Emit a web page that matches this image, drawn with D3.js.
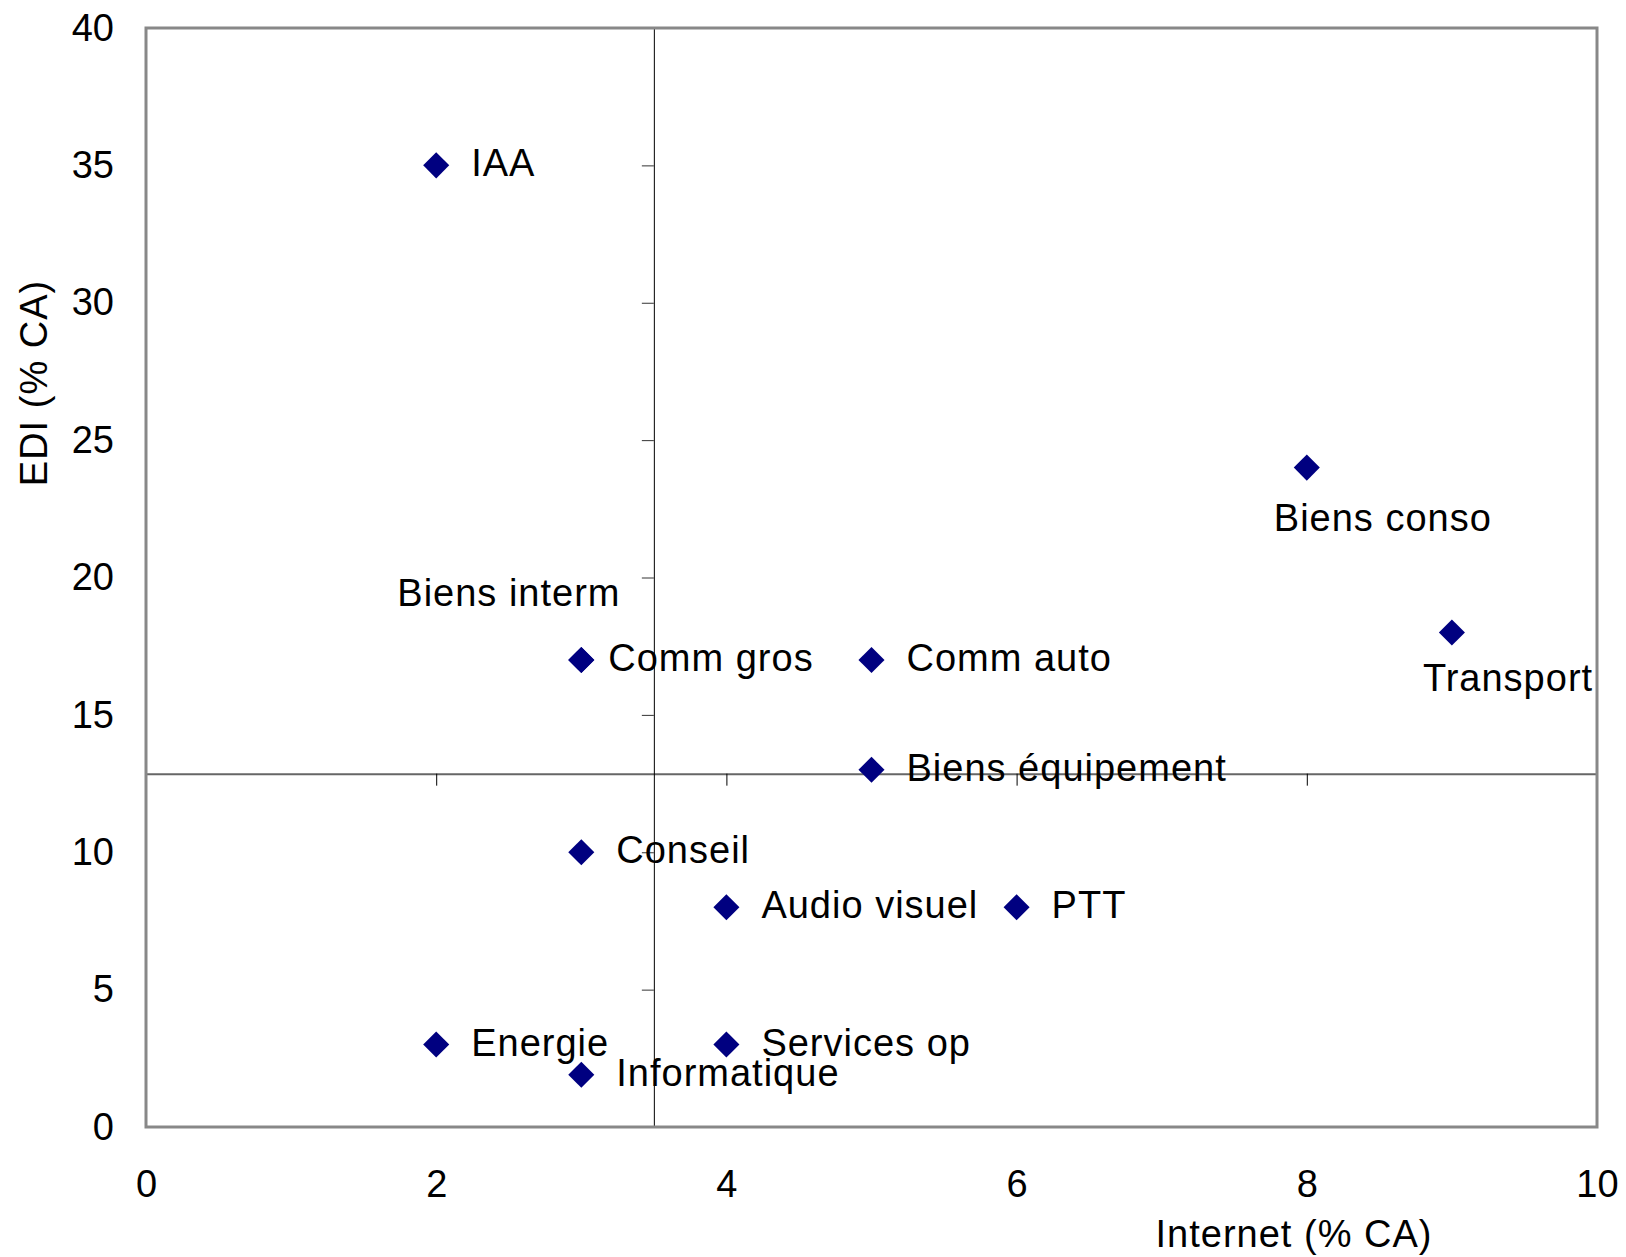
<!DOCTYPE html>
<html>
<head>
<meta charset="utf-8">
<script src="https://cdn.jsdelivr.net/npm/d3@7"></script>
<style>
  body { margin: 0; background: #fff; }
  text { font-family: "Liberation Sans", Arial, sans-serif; }
</style>
</head>
<body>
<div id="chart"></div>
<script>
// secteurs : Internet et EDI en % du CA
var secteurs = ["IAA", "Biens conso", "Transport", "Biens interm", "Comm gros", "Comm auto",
    "Biens équipement", "Conseil", "Audio visuel", "PTT", "Energie", "Services op", "Informatique"];
var internet = [2, 8, 9, 3, 3, 5, 5, 3, 4, 6, 2, 4, 3];
var edi = [35, 24, 18, 17, 17, 17, 13, 10, 8, 8, 3, 3, 1.9];

var xTicks = [0, 2, 4, 6, 8, 10];
var yTicks = [0, 5, 10, 15, 20, 25, 30, 35, 40];

// croisement des axes
var crossX = 3.5, crossY = 12.86;

var width = 1626, height = 1257;
var plotLeft = 146, plotRight = 1597, plotTop = 28, plotBottom = 1127;

var x = d3.scaleLinear().domain([0, 10]).range([plotLeft, plotRight]);
var y = d3.scaleLinear().domain([0, 40]).range([plotBottom, plotTop]);

var svg = d3.select("#chart").append("svg")
    .attr("width", width)
    .attr("height", height);

// tick labels on the frame edges
svg.append("g")
    .attr("transform", "translate(0," + plotBottom + ")")
    .call(d3.axisBottom(x).tickValues(xTicks).tickSize(0).tickPadding(43))
    .call(function (g) { g.select(".domain").remove(); })
    .selectAll("text")
    .style("font-size", "38px").attr("fill", "#000");

svg.append("g")
    .attr("transform", "translate(" + plotLeft + ",0)")
    .call(d3.axisLeft(y).tickValues(yTicks).tickSize(0).tickPadding(32))
    .call(function (g) { g.select(".domain").remove(); })
    .selectAll("text")
    .style("font-size", "38px").attr("fill", "#000");

// crossing axes with ticks
var hAxis = svg.append("g")
    .attr("transform", "translate(0," + y(crossY) + ")")
    .call(d3.axisBottom(x).tickValues(xTicks).tickSize(12).tickSizeOuter(0).tickFormat(""));
hAxis.select(".domain").attr("stroke", "#666").attr("stroke-width", 2);
hAxis.selectAll(".tick line").attr("stroke", "#000");

var vAxis = svg.append("g")
    .attr("transform", "translate(" + x(crossX) + ",0)")
    .call(d3.axisLeft(y).tickValues(yTicks).tickSize(12).tickSizeOuter(0).tickFormat(""));
vAxis.select(".domain").attr("stroke", "#000").attr("stroke-width", 1);
vAxis.selectAll(".tick line").attr("stroke", "#333");

// cadre
svg.append("rect")
    .attr("x", plotLeft).attr("y", plotTop)
    .attr("width", plotRight - plotLeft).attr("height", plotBottom - plotTop)
    .attr("fill", "none")
    .attr("stroke", "#888")
    .attr("stroke-width", 3);

// titres des axes
svg.append("text")
    .attr("x", 1294).attr("y", 1247)
    .attr("text-anchor", "middle")
    .style("font-size", "38px")
    .style("letter-spacing", "1px")
    .text("Internet (% CA)");

svg.append("text")
    .attr("transform", "translate(47,383) rotate(-90)")
    .attr("text-anchor", "middle")
    .style("font-size", "38px")
    .style("letter-spacing", "1px")
    .text("EDI (% CA)");

// points
var points = secteurs.map(function (s, i) { return {nom: s, x: internet[i], y: edi[i]}; });

var diamond = d3.symbol().type(d3.symbolSquare).size(340);

svg.append("g").selectAll("path")
    .data(points)
    .enter().append("path")
    .attr("d", diamond)
    .attr("transform", function (d) { return "translate(" + x(d.x) + "," + y(d.y) + ") rotate(45)"; })
    .attr("fill", "#000080");

// label offsets, default right of the marker
var labelShift = {
    "Biens conso": [-33, 63],
    "Transport": [-29, 59],
    "Biens interm": [-184, -54],
    "Comm gros": [27, 11]
};

svg.append("g").selectAll("text")
    .data(points)
    .enter().append("text")
    .attr("x", function (d) { return x(d.x) + (labelShift[d.nom] ? labelShift[d.nom][0] : 35); })
    .attr("y", function (d) { return y(d.y) + (labelShift[d.nom] ? labelShift[d.nom][1] : 11); })
    .style("font-size", "38px")
    .style("letter-spacing", "1px")
    .attr("fill", "#000")
    .text(function (d) { return d.nom; });
</script>
</body>
</html>
